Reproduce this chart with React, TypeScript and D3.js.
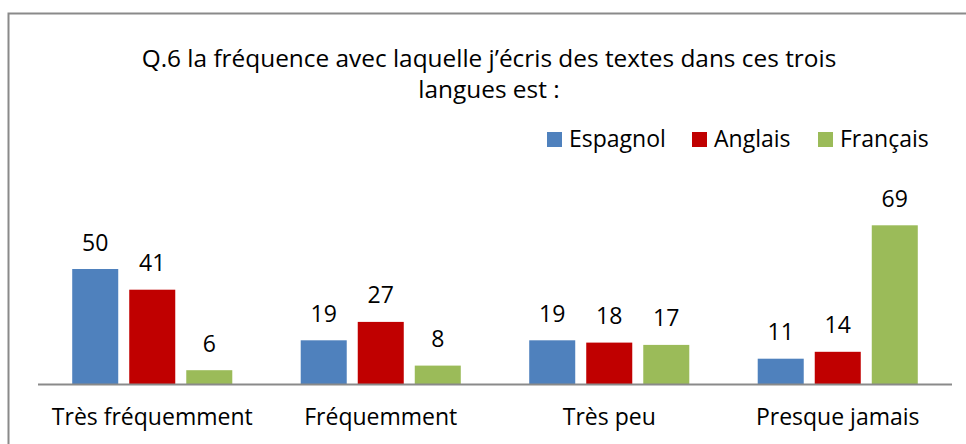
import React, { useEffect, useRef } from "react";
import * as d3 from "d3";

const categories = ["Très fréquemment", "Fréquemment", "Très peu", "Presque jamais"];
const seriesNames = ["Espagnol", "Anglais", "Français"];
const espagnol = [50, 19, 19, 11];
const anglais = [41, 27, 18, 14];
const francais = [6, 8, 17, 69];
const colors = ["#4F81BD", "#C00000", "#9BBB59"];
const titleLines = ["Q.6 la fréquence avec laquelle j’écris des textes dans ces trois", "langues est :"];

const W = 966;
const H = 444;
const FONT = "'Open Sans', 'Liberation Sans', sans-serif";

export default function App() {
  const ref = useRef<SVGSVGElement | null>(null);

  useEffect(() => {
    const svg = d3.select(ref.current);
    svg.selectAll("*").remove();

    const values = [espagnol, anglais, francais];
    const data = categories.map((c, i) => ({
      cat: c,
      vals: seriesNames.map((s, j) => ({ s, j, v: values[j][i] })),
    }));

    // frame
    svg.append("rect")
      .attr("x", 8.5).attr("y", 13.5)
      .attr("width", W + 10).attr("height", H + 10)
      .attr("fill", "#fff").attr("stroke", "#8a8a8a").attr("stroke-width", 2);

    // title
    const title = svg.append("text")
      .attr("x", 489).attr("text-anchor", "middle")
      .attr("font-family", FONT).attr("font-size", 24.4).attr("fill", "#000");
    titleLines.forEach((t, i) => {
      title.append("tspan").attr("x", 489).attr("y", 67 + i * 31).text(t);
    });

    const x0 = d3.scaleBand<string>().domain(categories).range([38, 952]).padding(0);
    const x1 = d3.scaleBand<string>().domain(seriesNames).range([0, x0.bandwidth()])
      .paddingInner(0.193).paddingOuter(0.6);
    const y = d3.scaleLinear().domain([0, 80]).range([384, 200]);

    const g = svg.append("g");
    const groups = g.selectAll("g.grp").data(data).enter().append("g")
      .attr("transform", (d) => `translate(${x0(d.cat)},0)`);

    groups.selectAll("rect").data((d) => d.vals).enter().append("rect")
      .attr("x", (d) => x1(d.s)!)
      .attr("y", (d) => y(d.v))
      .attr("width", x1.bandwidth())
      .attr("height", (d) => y(0) - y(d.v))
      .attr("fill", (d) => colors[d.j]);

    groups.selectAll("text").data((d) => d.vals).enter().append("text")
      .attr("x", (d) => x1(d.s)! + x1.bandwidth() / 2)
      .attr("y", (d) => y(d.v) - 18.5)
      .attr("text-anchor", "middle")
      .attr("font-family", FONT).attr("font-size", 23).attr("fill", "#000")
      .text((d) => String(d.v));

    // axis line
    svg.append("line")
      .attr("x1", 38).attr("x2", 952)
      .attr("y1", y(0) + 0.5).attr("y2", y(0) + 0.5)
      .attr("stroke", "#8a8a8a").attr("stroke-width", 2);

    // category labels
    svg.selectAll("text.cat").data(categories).enter().append("text")
      .attr("class", "cat")
      .attr("x", (d) => x0(d)! + x0.bandwidth() / 2)
      .attr("y", 425)
      .attr("text-anchor", "middle")
      .attr("font-family", FONT).attr("font-size", 23).attr("fill", "#000")
      .text((d) => d);

    // legend
    const legendX = [547, 692, 818];
    const leg = svg.selectAll("g.leg").data(seriesNames).enter().append("g")
      .attr("transform", (_d, i) => `translate(${legendX[i]},132)`);
    leg.append("rect").attr("width", 15).attr("height", 15)
      .attr("fill", (_d, i) => colors[i]);
    leg.append("text").attr("x", 22).attr("y", 15)
      .attr("font-family", FONT).attr("font-size", 23).attr("fill", "#000")
      .text((d) => d);
  }, []);

  return (
    <svg ref={ref} width={W} height={H}
      style={{ position: "absolute", left: 0, top: 0, background: "#fff" }} />
  );
}
